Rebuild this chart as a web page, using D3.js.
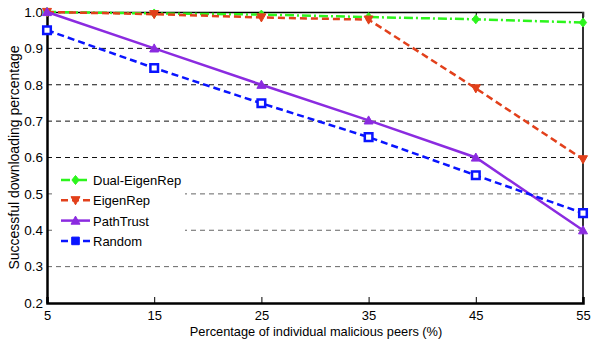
<!DOCTYPE html>
<html>
<head>
<meta charset="utf-8">
<script src="https://cdn.jsdelivr.net/npm/d3@7"></script>
<style>
  html, body { margin: 0; padding: 0; background: #fff; }
  svg { display: block; font-family: "Liberation Sans", Arial, sans-serif; }
</style>
</head>
<body>
<svg id="chart" width="593" height="348"></svg>
<script>
// Percentage of individual malicious peers (%)
const xValues = [5, 15, 25, 35, 45, 55];
const dualEigenRep = [1.0, 0.996, 0.993, 0.986, 0.980, 0.971];
const eigenRep     = [1.0, 0.994, 0.985, 0.979, 0.790, 0.595];
const pathTrust    = [1.0, 0.900, 0.800, 0.702, 0.600, 0.400];
const randomSel    = [0.950, 0.846, 0.749, 0.656, 0.551, 0.447];
const yTicks = [0.2, 0.3, 0.4, 0.5, 0.6, 0.7, 0.8, 0.9, 1.0];
const xTicks = [5, 15, 25, 35, 45, 55];

const series = [
  { name: "Dual-EigenRep", values: dualEigenRep, color: "#2cf51c", dash: "9,3,2,3", marker: "diamond" },
  { name: "EigenRep",      values: eigenRep,     color: "#e2401b", dash: "7,4",     marker: "down" },
  { name: "PathTrust",     values: pathTrust,    color: "#8b2be0", dash: null,      marker: "up" },
  { name: "Random",        values: randomSel,    color: "#0a14ff", dash: "7,4",     marker: "square" }
];

const svg = d3.select("#chart");
const m = { left: 47, right: 583, top: 12, bottom: 303 };
const FONT = "Liberation Sans, Arial, sans-serif";

const x = d3.scaleLinear().domain([5, 55]).range([m.left, m.right]);
const y = d3.scaleLinear().domain([0.2, 1.0]).range([m.bottom, m.top]);

// horizontal grid lines
svg.append("g").selectAll("line")
  .data(yTicks.filter(v => v > 0.2 && v < 1.0))
  .join("line")
  .attr("x1", m.left).attr("x2", m.right)
  .attr("y1", d => y(d)).attr("y2", d => y(d))
  .attr("stroke", d => d < 0.55 ? "#666" : "#111")
  .attr("stroke-width", 1)
  .attr("stroke-dasharray", "5,4");

// top axis: frame line with inward ticks
const xTop = d3.axisTop(x).tickValues(xTicks).tickFormat("").tickSize(-5);
const gt = svg.append("g").attr("transform", `translate(0,${m.top})`).call(xTop);
gt.select(".domain").attr("stroke", "#000").attr("stroke-width", 1.5);
gt.selectAll(".tick line").attr("stroke", "#000");

// right frame line
svg.append("line").attr("x1", m.right).attr("x2", m.right).attr("y1", m.top).attr("y2", m.bottom)
  .attr("stroke", "#333").attr("stroke-width", 2);

// bottom axis
const xAxis = d3.axisBottom(x).tickValues(xTicks).tickFormat(d3.format("d")).tickSize(-6).tickPadding(8);
const gx = svg.append("g").attr("transform", `translate(0,${m.bottom})`).call(xAxis);
gx.select(".domain").attr("stroke", "#000").attr("stroke-width", 2.5);
gx.selectAll(".tick line").attr("stroke", "#000");
gx.selectAll(".tick text").attr("font-size", 13).attr("font-family", FONT).attr("fill", "#000");

// left axis
const yAxis = d3.axisLeft(y).tickValues(yTicks).tickFormat(d3.format(".1f")).tickSize(0).tickPadding(4);
const gy = svg.append("g").attr("transform", `translate(${m.left},0)`).call(yAxis);
gy.select(".domain").attr("stroke", "#000").attr("stroke-width", 2.5);
gy.selectAll(".tick text").attr("font-size", 13.5).attr("font-family", FONT).attr("fill", "#000");

// axis titles
svg.append("text")
  .attr("x", (m.left + m.right) / 2 + 1).attr("y", 336)
  .attr("text-anchor", "middle").attr("font-size", 12.8)
  .text("Percentage of individual malicious peers (%)");
svg.append("text")
  .attr("transform", `translate(19,${(m.top + m.bottom) / 2}) rotate(-90)`)
  .attr("text-anchor", "middle").attr("font-size", 14)
  .text("Successful downloading percentage");

// marker shapes
function markerPath(type, cx, cy) {
  const s = 4.5;
  if (type === "diamond") return `M${cx},${cy - s}L${cx + s * 0.8},${cy}L${cx},${cy + s}L${cx - s * 0.8},${cy}Z`;
  if (type === "down") return `M${cx - s},${cy - s * 0.8}L${cx + s},${cy - s * 0.8}L${cx},${cy + s * 1.0}Z`;
  if (type === "up") return `M${cx - s},${cy + s * 0.8}L${cx + s},${cy + s * 0.8}L${cx},${cy - s * 1.0}Z`;
  const h = 3.8;
  return `M${cx - h},${cy - h}h${2 * h}v${2 * h}h${-2 * h}Z`;
}

const line = d3.line().x(d => x(d[0])).y(d => y(d[1]));

// legend (white box hiding gridlines)
const lg = svg.append("g");
lg.append("rect").attr("x", 52).attr("y", 166).attr("width", 133).attr("height", 88).attr("fill", "#fff");

series.forEach((s, i) => {
  const pts = xValues.map((xv, j) => [xv, s.values[j]]);
  const g = svg.append("g");
  g.append("path").datum(pts).attr("d", line)
    .attr("fill", "none").attr("stroke", s.color).attr("stroke-width", 2.5)
    .attr("stroke-dasharray", s.dash);
  g.selectAll("path.mk").data(pts).join("path").attr("class", "mk")
    .attr("d", d => markerPath(s.marker, x(d[0]), y(d[1])))
    .attr("fill", s.marker === "square" ? "#fff" : s.color)
    .attr("stroke", s.color).attr("stroke-width", s.marker === "square" ? 2.5 : 1);

  const ly = 180 + i * 20.3;
  lg.append("line").attr("x1", 61).attr("x2", 90).attr("y1", ly).attr("y2", ly)
    .attr("stroke", s.color).attr("stroke-width", 2.5).attr("stroke-dasharray", s.dash);
  lg.append("path").attr("d", markerPath(s.marker, 75.5, ly))
    .attr("fill", s.color).attr("stroke", s.color).attr("stroke-width", 1);
  lg.append("text").attr("x", 93).attr("y", ly + 5).attr("font-size", 13).text(s.name);
});
</script>
</body>
</html>
